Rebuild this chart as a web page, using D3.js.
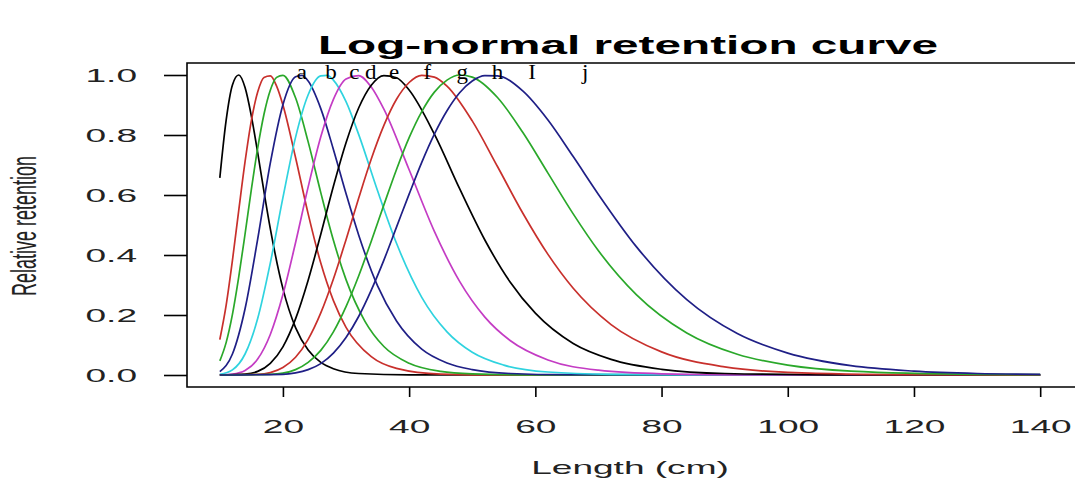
<!DOCTYPE html>
<html>
<head>
<meta charset="utf-8">
<script src="https://cdn.jsdelivr.net/npm/d3@7"></script>
<style>
  html, body { margin: 0; padding: 0; background: #ffffff; }
  svg { display: block; }
</style>
</head>
<body>
<svg id="chart" width="1075" height="480"></svg>
<script>
// Relative retention by length (cm) for each mesh, a..j
const meshA_len = [10, 11, 12, 13, 14, 15, 16, 17, 18, 20, 22, 24, 26, 28, 32, 40, 140];
const meshA_ret = [0.657, 0.849, 0.967, 1.000, 0.958, 0.863, 0.741, 0.611, 0.488, 0.288, 0.158, 0.083, 0.042, 0.021, 0.005, 0.0003, 0];

const meshB_len = [10, 11, 12, 13, 14, 15, 16, 17, 18, 19, 20, 22, 24, 26, 28, 30, 34, 38, 45, 55, 140];
const meshB_ret = [0.118, 0.232, 0.382, 0.549, 0.711, 0.848, 0.943, 0.992, 0.997, 0.963, 0.900, 0.725, 0.537, 0.373, 0.248, 0.159, 0.061, 0.022, 0.003, 0.0002, 0];

const meshC_len = [10, 11, 12, 13, 14, 15, 16, 17, 18, 19, 20, 22, 24, 26, 28, 30, 33, 36, 40, 45, 50, 60, 140];
const meshC_ret = [0.047, 0.108, 0.202, 0.327, 0.470, 0.619, 0.756, 0.869, 0.949, 0.992, 0.999, 0.924, 0.777, 0.608, 0.449, 0.318, 0.179, 0.095, 0.039, 0.012, 0.004, 0.0003, 0];

const meshD_len = [10, 12, 14, 16, 18, 20, 22, 23, 24, 26, 28, 30, 32, 35, 38, 42, 46, 50, 56, 65, 140];
const meshD_ret = [0.011, 0.070, 0.221, 0.453, 0.706, 0.901, 0.994, 0.999, 0.980, 0.888, 0.752, 0.605, 0.467, 0.297, 0.180, 0.086, 0.040, 0.018, 0.005, 0.001, 0];

const meshE_len = [10, 12, 14, 16, 18, 20, 22, 24, 26, 27, 28, 30, 32, 35, 38, 42, 46, 50, 55, 62, 72, 85, 140];
const meshE_ret = [0.002, 0.017, 0.070, 0.188, 0.373, 0.591, 0.792, 0.934, 0.997, 0.999, 0.983, 0.911, 0.802, 0.614, 0.439, 0.259, 0.144, 0.076, 0.033, 0.010, 0.002, 0.0002, 0];

const meshF_len = [10, 12, 14, 16, 18, 20, 22, 24, 26, 28, 30, 32, 34, 36, 40, 44, 48, 52, 56, 62, 70, 80, 95, 140];
const meshF_ret = [0.0002, 0.003, 0.015, 0.053, 0.135, 0.268, 0.441, 0.627, 0.794, 0.919, 0.987, 0.998, 0.960, 0.886, 0.684, 0.479, 0.312, 0.193, 0.115, 0.050, 0.016, 0.004, 0.0004, 0];

const meshG_len = [10, 14, 16, 18, 20, 22, 24, 26, 28, 30, 32, 34, 36, 38, 40, 44, 48, 52, 56, 60, 66, 72, 80, 90, 110, 140];
const meshG_ret = [0, 0.003, 0.012, 0.039, 0.094, 0.187, 0.316, 0.469, 0.629, 0.774, 0.890, 0.966, 0.998, 0.991, 0.950, 0.803, 0.621, 0.450, 0.310, 0.206, 0.105, 0.052, 0.019, 0.005, 0.0004, 0];

const meshH_len = [10, 16, 18, 20, 22, 24, 26, 28, 30, 32, 34, 36, 38, 40, 42, 44, 46, 50, 54, 58, 62, 66, 72, 80, 90, 100, 120, 140];
const meshH_ret = [0, 0.002, 0.008, 0.025, 0.059, 0.119, 0.207, 0.320, 0.451, 0.589, 0.720, 0.832, 0.919, 0.975, 0.999, 0.993, 0.963, 0.847, 0.695, 0.540, 0.402, 0.289, 0.168, 0.077, 0.027, 0.009, 0.001, 0];

const meshI_len = [10, 18, 20, 22, 24, 26, 28, 30, 32, 34, 36, 38, 40, 42, 44, 46, 48, 50, 54, 58, 62, 66, 70, 76, 84, 92, 100, 110, 130, 140];
const meshI_ret = [0, 0.002, 0.006, 0.018, 0.042, 0.082, 0.144, 0.228, 0.330, 0.446, 0.567, 0.685, 0.791, 0.878, 0.943, 0.983, 1.000, 0.993, 0.925, 0.809, 0.673, 0.537, 0.414, 0.268, 0.140, 0.069, 0.033, 0.013, 0.002, 0.001];

const meshJ_len = [10, 20, 22, 24, 26, 28, 30, 32, 34, 36, 38, 40, 42, 44, 46, 48, 50, 52, 54, 58, 62, 66, 70, 76, 84, 92, 100, 110, 120, 130, 140];
const meshJ_ret = [0, 0.002, 0.007, 0.018, 0.038, 0.073, 0.125, 0.195, 0.283, 0.383, 0.493, 0.603, 0.709, 0.803, 0.881, 0.941, 0.980, 0.998, 0.997, 0.947, 0.850, 0.728, 0.602, 0.428, 0.251, 0.138, 0.073, 0.031, 0.013, 0.005, 0.002];

// Line colours, one per mesh (palette cycles after six)
const meshColors = ["#000000", "#c8302c", "#2aa82a", "#1f1f86", "#2fd3df", "#c43cc4",
                    "#000000", "#c8302c", "#2aa82a", "#1f1f86"];

// Mesh labels along the top of the panel
const labelText = ["a", "b", "c", "d", "e", "f", "g", "h", "I", "j"];
const labelLen = [23.0, 27.6, 31.3, 33.9, 37.6, 42.9, 48.4, 54.0, 59.5, 67.9];
const labelRet = 1.01;

// Axis ticks
const xTicks = [20, 40, 60, 80, 100, 120, 140];
const yTicks = [0.0, 0.2, 0.4, 0.6, 0.8, 1.0];

const meshes = [
  [meshA_len, meshA_ret], [meshB_len, meshB_ret], [meshC_len, meshC_ret],
  [meshD_len, meshD_ret], [meshE_len, meshE_ret], [meshF_len, meshF_ret],
  [meshG_len, meshG_ret], [meshH_len, meshH_ret], [meshI_len, meshI_ret],
  [meshJ_len, meshJ_ret]
].map(([L, R], i) => ({ color: meshColors[i], pts: L.map((l, k) => [l, R[k]]) }));

const svg = d3.select("#chart");

const plot = { left: 187, right: 1073, top: 63, bottom: 387 };
const x = d3.scaleLinear().domain([4.8, 145.2]).range([plot.left, plot.right]);
const y = d3.scaleLinear().domain([-0.04, 1.04]).range([plot.bottom, plot.top]);

const SANS = "'Liberation Sans', Arial, sans-serif";
const stretch = 1.95;   // wide lettering of the axis text

// Curves
const line = d3.line()
  .x(d => x(d[0]))
  .y(d => y(d[1]))
  .curve(d3.curveMonotoneX);

svg.append("g")
  .selectAll("path")
  .data(meshes)
  .join("path")
  .attr("d", d => line(d.pts))
  .attr("fill", "none")
  .attr("stroke", d => d.color)
  .attr("stroke-width", 1.7)
  .attr("stroke-linejoin", "round");

// Frame (open on the right, where the page ends)
svg.append("path")
  .attr("d", `M${1080},${plot.top}H${plot.left}V${plot.bottom}H${1080}`)
  .attr("fill", "none")
  .attr("stroke", "#000")
  .attr("stroke-width", 1.6);

// X axis
const gx = svg.append("g")
  .attr("transform", `translate(0,${plot.bottom})`)
  .call(d3.axisBottom(x).tickValues(xTicks).tickSize(10).tickSizeOuter(0).tickFormat(d3.format("d")));
gx.select(".domain").remove();
gx.selectAll(".tick line").attr("stroke", "#000").attr("stroke-width", 1.6);
gx.selectAll(".tick text")
  .attr("x", 0).attr("y", 0).attr("dy", "0.35em")
  .attr("transform", `translate(0,39) scale(${stretch},1)`)
  .attr("fill", "#222")
  .style("font-family", SANS)
  .style("font-size", "19px");

// Y axis
const gy = svg.append("g")
  .attr("transform", `translate(${plot.left},0)`)
  .call(d3.axisLeft(y).tickValues(yTicks).tickSize(23).tickSizeOuter(0).tickFormat(d3.format(".1f")));
gy.select(".domain").remove();
gy.selectAll(".tick line").attr("stroke", "#000").attr("stroke-width", 1.6);
gy.selectAll(".tick text")
  .attr("x", 0).attr("y", 0).attr("dy", "0.35em")
  .attr("transform", `translate(-50,0) scale(${stretch},1)`)
  .attr("fill", "#222")
  .style("font-family", SANS)
  .style("font-size", "19px");

// Mesh letters
svg.append("g")
  .selectAll("text")
  .data(labelText)
  .join("text")
  .attr("transform", (d, i) => `translate(${x(labelLen[i])},${y(labelRet)}) scale(1.15,1)`)
  .attr("dy", "0.35em")
  .attr("text-anchor", "middle")
  .style("font-family", "'Liberation Serif', 'Times New Roman', serif")
  .style("font-size", "20px")
  .attr("fill", "#000")
  .text(d => d);

// Title
svg.append("text")
  .attr("transform", `translate(628,54) scale(1.8,1)`)
  .attr("text-anchor", "middle")
  .style("font-family", SANS)
  .style("font-weight", "bold")
  .style("font-size", "26.5px")
  .attr("fill", "#000")
  .text("Log-normal retention curve");

// Axis titles
svg.append("text")
  .attr("transform", `translate(630,467) scale(${stretch},1)`)
  .attr("dy", "0.35em")
  .attr("text-anchor", "middle")
  .style("font-family", SANS)
  .style("font-size", "19px")
  .attr("fill", "#222")
  .text("Length (cm)");

svg.append("text")
  .attr("transform", `translate(24,226) rotate(-90) scale(1,1.9)`)
  .attr("dy", "0.35em")
  .attr("text-anchor", "middle")
  .style("font-family", SANS)
  .style("font-size", "18px")
  .attr("fill", "#222")
  .text("Relative retention");
</script>
</body>
</html>
